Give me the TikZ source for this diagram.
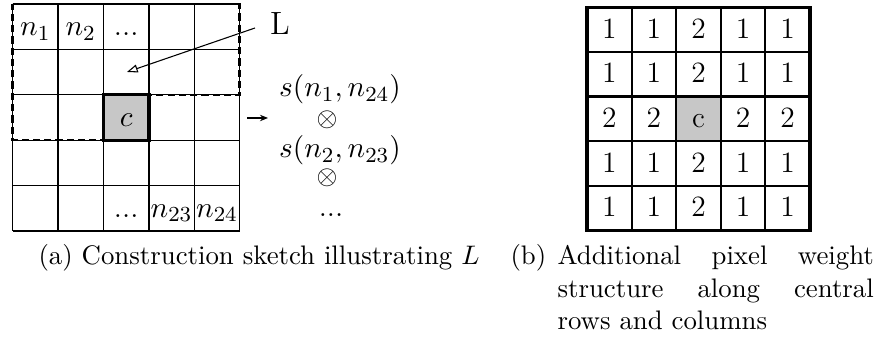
\documentclass[tikz,border=0pt]{standalone}
\usetikzlibrary{arrows.meta}
\begin{document}
\begin{tikzpicture}[x=0.3731pt,y=-0.3731pt,
  gridthin/.style={line width=0.5pt},
  Ldash/.style={line width=0.9pt,dash pattern=on 2.7pt off 1.5pt},
  cthick/.style={line width=1.2pt},
  cfill/.style={fill=black!22},
  lab/.style={inner sep=0pt,font=\fontsize{11.2}{13}\selectfont},
  stk/.style={inner sep=0pt,font=\fontsize{11.2}{13}\selectfont},
  otim/.style={inner sep=0pt,font=\fontsize{10}{12}\selectfont},
  Lfont/.style={inner sep=0pt,font=\fontsize{12}{14}\selectfont},
  rnum/.style={inner sep=0pt,font=\fontsize{11}{13}\selectfont},
  router/.style={line width=1.3pt},
  rinner/.style={line width=0.8pt},
  captxt/.style={inner sep=0pt,font=\fontsize{10}{12}\selectfont},
  thinarrow/.style={line width=0.4pt}]
\useasboundingbox (0,0) rectangle (879,338);
\def\lx{12.7}\def\ly{4}\def\lc{45.4}
\def\rx{587}\def\ry{7.3}\def\rc{44.6}
% ---------- left grid ----------
\fill[cfill] (\lx+2*\lc,\ly+2*\lc) rectangle ++(\lc,\lc);
\foreach \i in {0,...,5}{
  \draw[gridthin] (\lx+\i*\lc,\ly) -- (\lx+\i*\lc,\ly+5*\lc);
  \draw[gridthin] (\lx,\ly+\i*\lc) -- (\lx+5*\lc,\ly+\i*\lc);
}
\draw[Ldash] (\lx,\ly) -- (\lx+5*\lc,\ly) -- (\lx+5*\lc,\ly+2*\lc) -- (\lx+2*\lc,\ly+2*\lc)
  -- (\lx+2*\lc,\ly+3*\lc) -- (\lx,\ly+3*\lc) -- cycle;
\draw[cthick] (\lx+2*\lc,\ly+2*\lc) rectangle ++(\lc,\lc);
\node[lab,anchor=base] (n1) at (\lx+0.5*\lc,\ly+32) {$n_1$};
\node[lab,anchor=base] (n2) at (\lx+1.5*\lc,\ly+32) {$n_2$};
\node[lab,anchor=base] (dtop) at (\lx+2.5*\lc,\ly+32) {...};
\node[lab,anchor=base] (cc) at (\lx+2.5*\lc,\ly+2*\lc+32) {$c$};
\node[lab,anchor=base] (dbot) at (\lx+2.5*\lc,\ly+4*\lc+32) {...};
\node[lab,anchor=base] (n23) at (\lx+3.5*\lc,\ly+4*\lc+32) {$n_{23}$};
\node[lab,anchor=base] (n24) at (\lx+4.5*\lc,\ly+4*\lc+32) {$n_{24}$};
% L label and arrow
\node[Lfont,anchor=base] (Lnode) at (280,35) {L};
\coordinate (Ltail) at (255,28);
\coordinate (Ltip) at (127,72);
\draw[thinarrow,-{Triangle[open,length=4pt,width=3pt]}] (Ltail) -- (Ltip);
% small arrow to stack
\coordinate (gA) at (247,118);
\coordinate (gB) at (268,118);
\draw[thinarrow,-{Stealth[length=3pt,width=2.4pt]}] (gA) -- (gB);
% stack
\node[stk,anchor=base] (s1) at (340,97) {$s(n_1,n_{24})$};
\node[otim] (o1) at (327,120) {$\otimes$};
\node[stk,anchor=base] (s2) at (340,158) {$s(n_2,n_{23})$};
\node[otim] (o2) at (327,178) {$\otimes$};
\node[stk,anchor=base] (d3) at (331,217) {...};
% ---------- right grid ----------
\fill[cfill] (\rx+2*\rc,\ry+2*\rc) rectangle ++(\rc,\rc);
\foreach \i in {1,...,4}{
  \draw[rinner] (\rx+\i*\rc,\ry) -- (\rx+\i*\rc,\ry+5*\rc);
  \draw[rinner] (\rx,\ry+\i*\rc) -- (\rx+5*\rc,\ry+\i*\rc);
}
\draw[router] (\rx,\ry) rectangle (\rx+5*\rc,\ry+5*\rc);
\foreach \r in {0,...,4}{
  \foreach \k in {0,...,4}{
    \pgfmathparse{(\r==2 && \k==2) ? 0 : ((\r==2 || \k==2) ? 2 : 1)}
    \let\v\pgfmathresult
    \ifdim\v pt=0pt \def\txt{c}\else\ifdim\v pt=2pt \def\txt{2}\else\def\txt{1}\fi\fi
    \node[rnum,anchor=base] (r-\r-\k) at (\rx+\k*\rc+0.5*\rc,\ry+\r*\rc+31) {\txt};
  }
}
% ---------- captions ----------
\node[captxt,anchor=base west] (capa) at (38,265) {(a) Construction sketch illustrating $L$};
\node[captxt,anchor=base west] (capb) at (510,265) {(b)};
\node[captxt,anchor=base west] (capb1) at (557,265) {\hbox to 118pt{Additional\hfill pixel\hfill weight}};
\node[captxt,anchor=base west] (capb2) at (557,298) {\hbox to 118pt{structure\hfill along\hfill central}};
\node[captxt,anchor=base west] (capb3) at (557,330) {rows and columns};
\end{tikzpicture}
\end{document}
